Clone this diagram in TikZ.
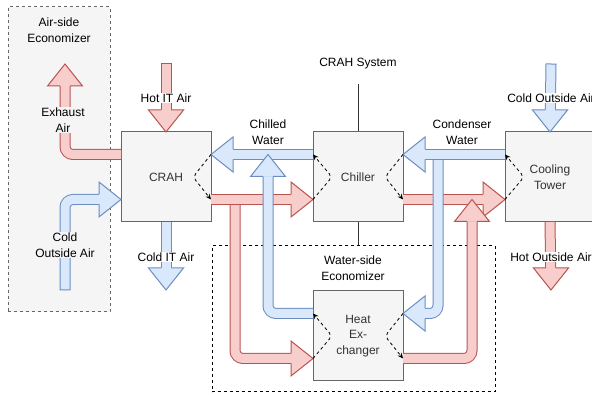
\documentclass[tikz,border=0pt]{standalone}
\usepackage{fontspec}
\setmainfont{Liberation Sans}
\usepackage{xcolor}
\usepackage{tikz}
\usetikzlibrary{positioning,arrows.meta}

\definecolor{redfill}{HTML}{F8CECC}
\definecolor{redline}{HTML}{B85450}
\definecolor{bluefill}{HTML}{DAE8FC}
\definecolor{blueline}{HTML}{6C8EBF}
\definecolor{boxfill}{HTML}{F5F5F5}
\definecolor{boxline}{HTML}{666666}
\definecolor{boxtext}{HTML}{333333}

\tikzset{flowhead/.pic={\filldraw[fill=#1fill, draw=#1line, line width=1pt] (-22,5) -- (-22,17.5) -- (0,0) -- (-22,-17.5) -- (-22,-5);}}

\begin{document}
\begin{tikzpicture}[
  x=1pt, y=-1pt,
  font=\fontsize{12}{15.5}\selectfont,
  unit/.style={draw=boxline, fill=boxfill, text=boxtext, line width=1pt, align=center, minimum width=90pt, minimum height=90pt, outer sep=0pt},
  region/.style={dash pattern=on 3pt off 3pt, line width=1pt},
  redflow/.style={draw=redline, double=redfill, double distance=9pt, line width=1pt, rounded corners=8pt, shorten >=22pt},
  blueflow/.style={draw=blueline, double=bluefill, double distance=9pt, line width=1pt, rounded corners=8pt, shorten >=22pt},
  openend/.style={line cap=rect, shorten <=5pt},
  tag/.style={fill=white, inner sep=1pt, align=center},
  heatpath/.style={dash pattern=on 3pt off 3pt, line width=0.8pt, rounded corners=4pt, -{Stealth[length=5.5pt, width=5pt]}}
]
\useasboundingbox (0,0) rectangle (592,395);

\node[region, draw=boxline, fill=boxfill, minimum width=102pt, minimum height=305pt] (aside) at (59,159.5) {};
\node[align=center] (asidelbl) at (59,30) {Air-side\\Economizer};
\node[region, draw=black, minimum width=283pt, minimum height=146pt] (wside) at (353.5,319) {};
\node[align=center] (wsidelbl) at (353,268) {Water-side\\Economizer};

\node (sysl) at (358,64) {CRAH System};
\draw[boxtext, line width=1pt] ([yshift=-11pt]sysl.south) -- (sysl.south |- wside.north);

\node[unit] (crah) at (166,177) {CRAH};
\node[unit, right=102pt of crah] (chiller) {Chiller};
\node[unit, right=102pt of chiller] (tower) {Cooling\\Tower};
\node[unit, below=69pt of chiller] (hx) {Heat\\Ex-\\changer};

\coordinate (hotit) at (166,64);
\coordinate (coldit) at (166,290);
\coordinate (exhaust) at (65,64);
\coordinate (coldair) at (65,290);
\coordinate (towerin) at (551,64);
\coordinate (towerout) at (551,290);

\draw[redflow, openend] (hotit) -- (crah.north);
\pic[rotate=-90] at (crah.north) {flowhead=red};
\draw[blueflow] (crah.south) -- (coldit);
\pic[rotate=-90] at (coldit) {flowhead=blue};
\draw[redflow] ([yshift=22.5pt]crah.west) -| (exhaust);
\pic[rotate=90] at (exhaust) {flowhead=red};
\draw[blueflow, openend] (coldair) |- ([yshift=-22.5pt]crah.west);
\pic at ([yshift=-22.5pt]crah.west) {flowhead=blue};

\draw[redflow] ([xshift=24pt, yshift=-22.5pt]crah.east) |- ([yshift=-22.5pt]hx.west);
\pic at ([yshift=-22.5pt]hx.west) {flowhead=red};
\draw[redflow] ([yshift=-22.5pt]crah.east) -- ([yshift=-22.5pt]chiller.west);
\pic at ([yshift=-22.5pt]chiller.west) {flowhead=red};
\draw[blueflow] ([yshift=22.5pt]chiller.west) -- ([yshift=22.5pt]crah.east);
\pic[rotate=180] at ([yshift=22.5pt]crah.east) {flowhead=blue};
\draw[blueflow] ([yshift=22.5pt]hx.west) -| ([xshift=57pt, yshift=22.5pt]crah.east);
\pic[rotate=90] at ([xshift=57pt, yshift=22.5pt]crah.east) {flowhead=blue};

\draw[redflow] ([yshift=-22.5pt]chiller.east) -- ([yshift=-22.5pt]tower.west);
\pic at ([yshift=-22.5pt]tower.west) {flowhead=red};
\draw[redflow] ([yshift=-22.5pt]hx.east) -| ([xshift=69pt, yshift=-22.5pt]chiller.east);
\pic[rotate=90] at ([xshift=69pt, yshift=-22.5pt]chiller.east) {flowhead=red};
\draw[blueflow] ([xshift=35pt, yshift=22.5pt]chiller.east) |- ([yshift=22.5pt]hx.east);
\pic[rotate=180] at ([yshift=22.5pt]hx.east) {flowhead=blue};
\draw[blueflow] ([yshift=22.5pt]tower.west) -- ([yshift=22.5pt]chiller.east);
\pic[rotate=180] at ([yshift=22.5pt]chiller.east) {flowhead=blue};

\draw[blueflow, openend] (towerin) -- (tower.north);
\pic[rotate=-90] at (tower.north) {flowhead=blue};
\draw[redflow] (tower.south) -- (towerout);
\pic[rotate=-90] at (towerout) {flowhead=red};

\node[tag, fill=boxfill] (exhlbl) at (63,120) {Exhaust\\Air};
\node[tag, fill=boxfill] (coldlbl) at (65,245) {Cold\\Outside Air};
\node[tag] (hotitlbl) at (166,98) {Hot IT Air};
\node[tag] (colditlbl) at (166,257) {Cold IT Air};
\node[tag] (chwlbl) at (268,132) {Chilled\\Water};
\node[tag] (cwlbl) at (462,132) {Condenser\\Water};
\node[tag] (towerinlbl) at (551,98) {Cold Outside Air};
\node[tag] (toweroutlbl) at (551,257) {Hot Outside Air};

\foreach \b in {crah,chiller,hx} \draw[heatpath] ([yshift=22.5pt]\b.east) -- ([xshift=-18pt]\b.east) -- ([yshift=-22.5pt]\b.east);
\foreach \b in {chiller,tower,hx} \draw[heatpath] ([yshift=-22.5pt]\b.west) -- ([xshift=19pt]\b.west) -- ([yshift=22.5pt]\b.west);
\end{tikzpicture}
\end{document}
